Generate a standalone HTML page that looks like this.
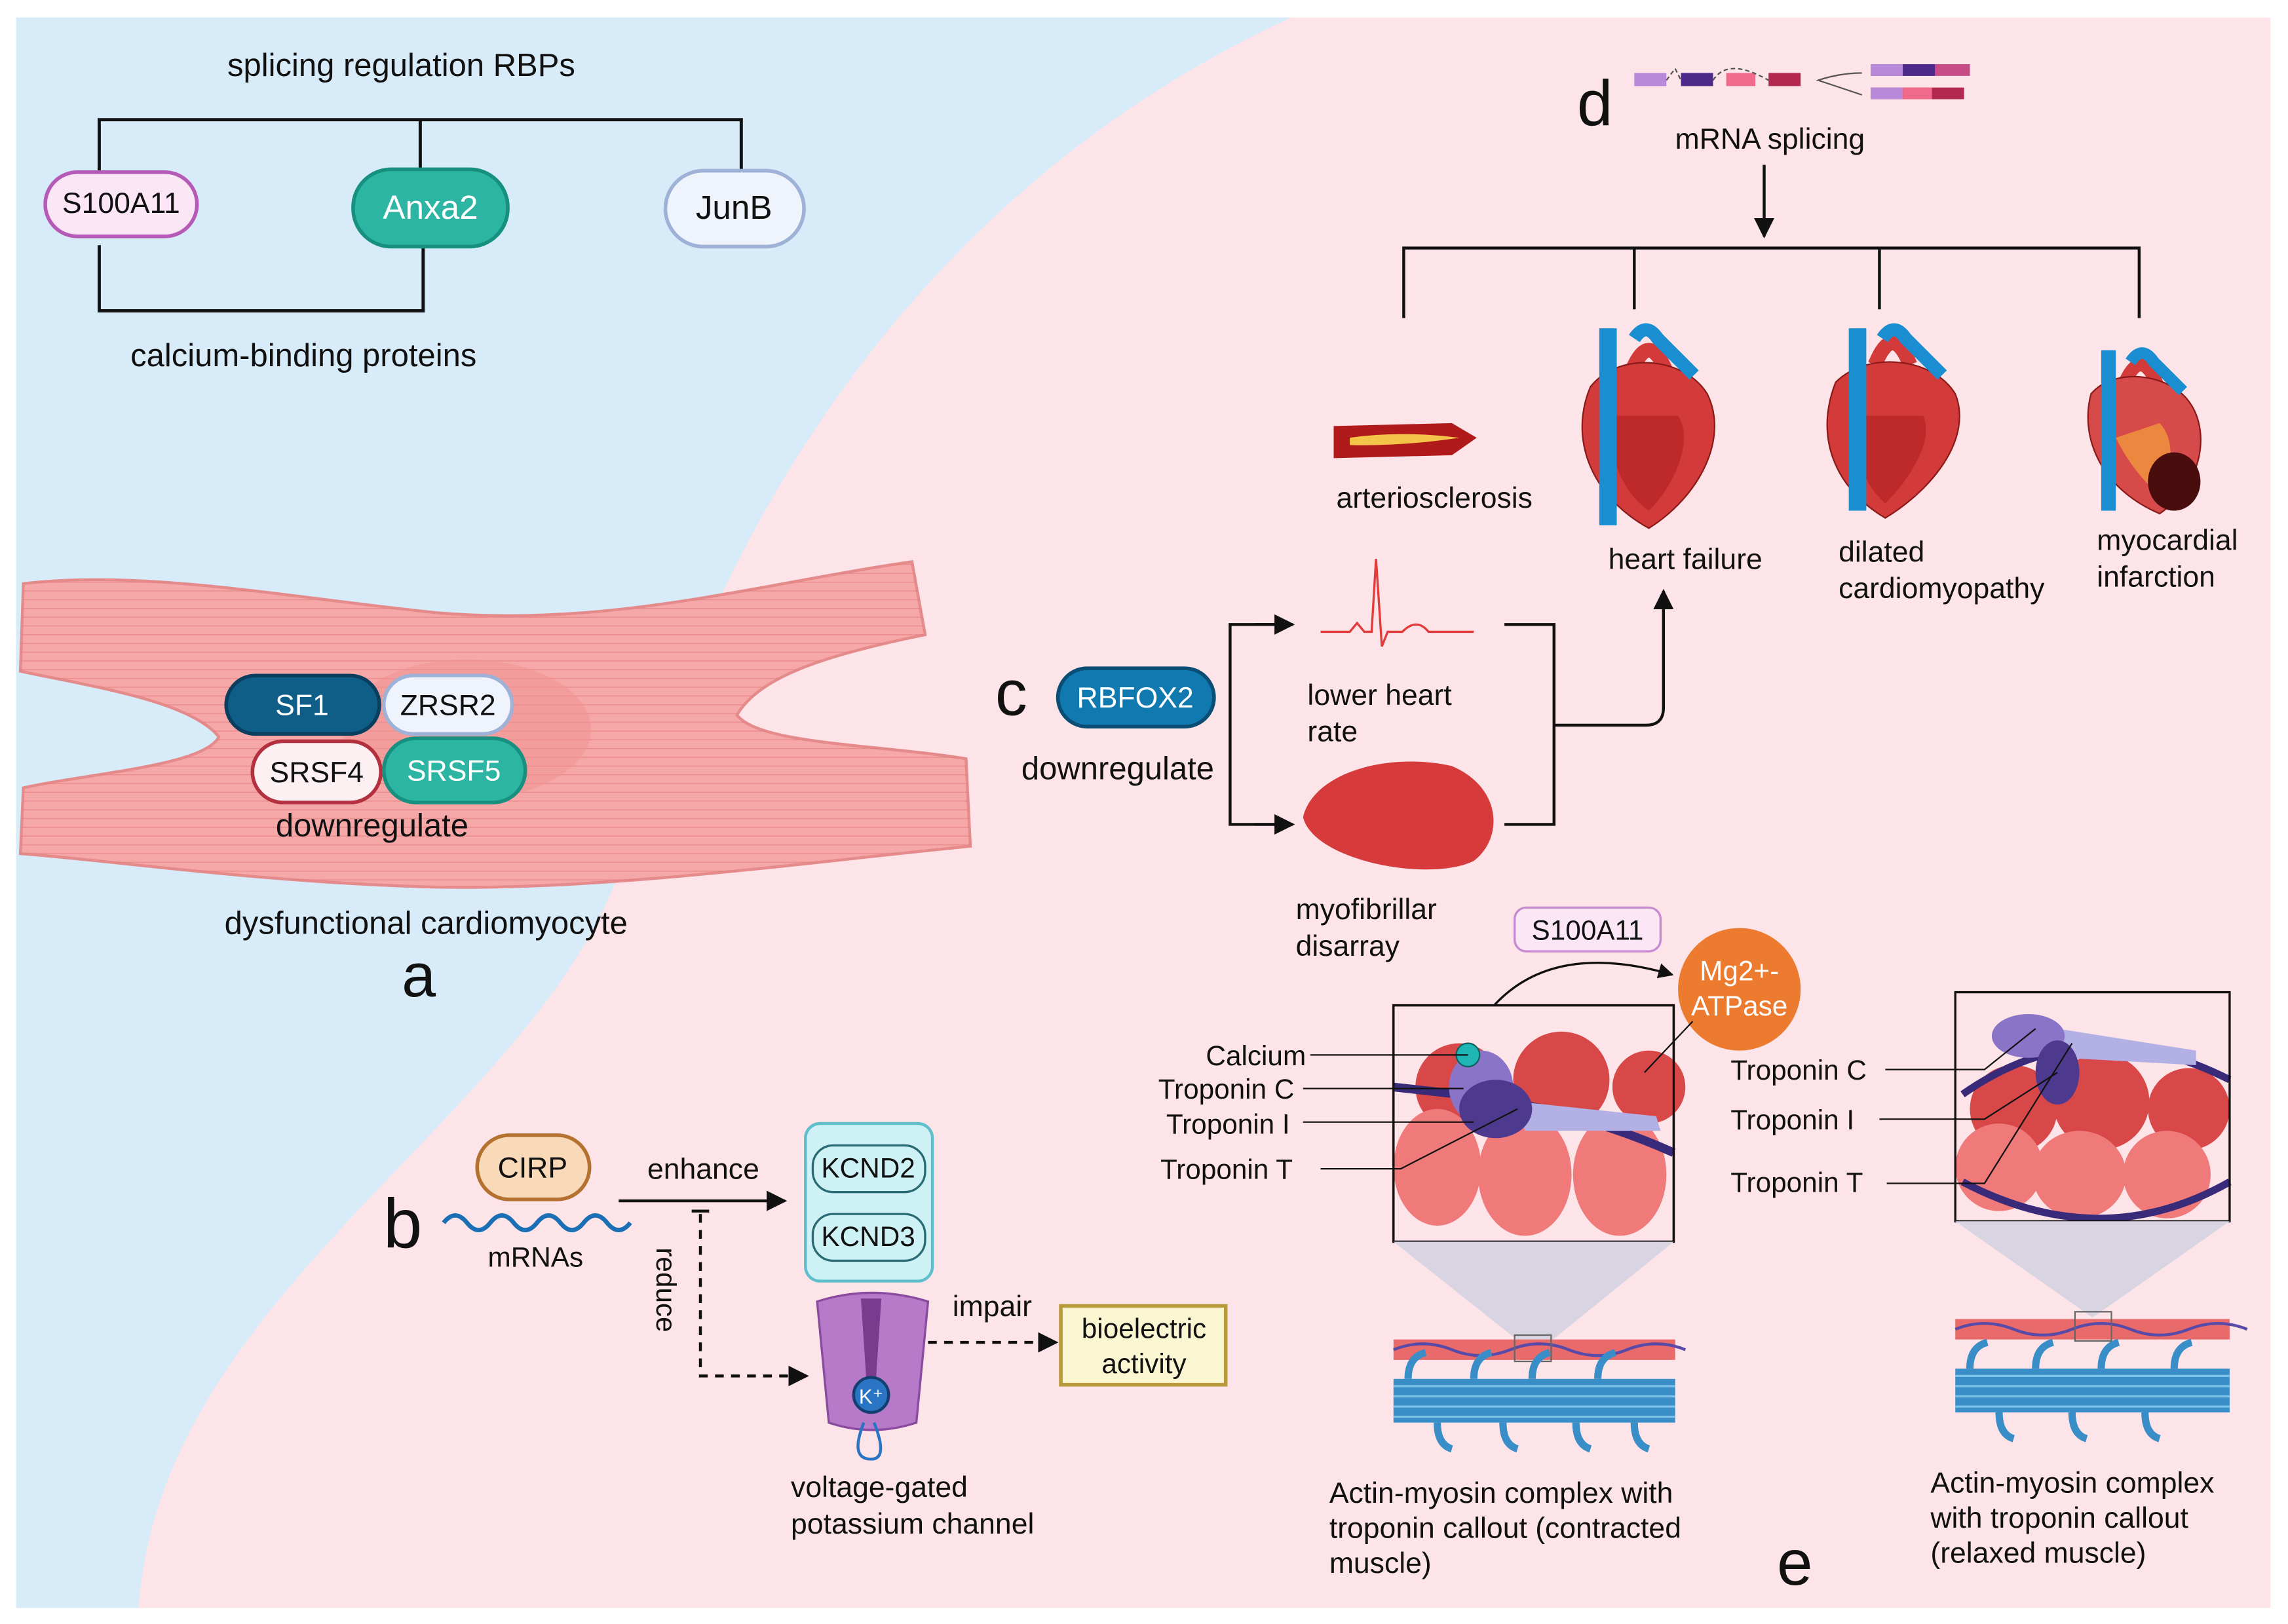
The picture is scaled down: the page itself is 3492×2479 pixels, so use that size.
<!DOCTYPE html>
<html><head><meta charset="utf-8"><style>
html,body{margin:0;padding:0;background:#fff}
svg{display:block}
text{font-family:"Liberation Sans",sans-serif;fill:#111}
</style></head><body>
<svg width="3492" height="2479" viewBox="0 0 1568 1113" preserveAspectRatio="none" xmlns="http://www.w3.org/2000/svg">
<defs>
<marker id="ar" viewBox="0 0 10 10" refX="9" refY="5" markerWidth="7" markerHeight="7" orient="auto"><path d="M0,0L10,5L0,10z" fill="#111"/></marker>
<pattern id="stri" width="40" height="6" patternUnits="userSpaceOnUse"><path d="M0,3 H40" stroke="#e07a7a" stroke-width="0.7" opacity="0.6"/></pattern>
</defs>
<rect x="0" y="0" width="1568" height="1113" fill="#fff"/>
<rect x="11" y="12" width="1545" height="1090" fill="#fde4e8"/>
<path d="M11,12 L885,12 C650,120 500,330 430,580 C380,760 110,880 95,1102 L11,1102 Z" fill="#d8ebf8"/>

<text x="275" y="52" font-size="22" text-anchor="middle">splicing regulation RBPs</text>
<path d="M68,118 V82 H508 V118 M288,82 V118" fill="none" stroke="#111" stroke-width="2.2"/>
<path d="M68,168 V213 H290 V168" fill="none" stroke="#111" stroke-width="2.2"/>
<rect x="31" y="118" width="104" height="44" rx="22" fill="#fbe6f6" stroke="#b65ab8" stroke-width="2.5"/>
<text x="83" y="146" font-size="20" text-anchor="middle">S100A11</text>
<rect x="242" y="116" width="106" height="53" rx="26" fill="#2bb5a2" stroke="#17907f" stroke-width="2.5"/>
<text x="295" y="150" font-size="23" text-anchor="middle" style="fill:#fff">Anxa2</text>
<rect x="456" y="117" width="95" height="52" rx="26" fill="#eef3fc" stroke="#9eb1d6" stroke-width="2.5"/>
<text x="503" y="150" font-size="23" text-anchor="middle">JunB</text>
<text x="208" y="251" font-size="22" text-anchor="middle">calcium-binding proteins</text>

<path d="M16,400 C100,390 200,410 300,420 C420,430 520,400 625,385 L634,435 C560,450 520,465 505,490 C520,510 600,510 662,520 L665,580 C560,590 420,610 300,608 C180,605 80,590 14,585 L16,540 C60,530 140,525 150,505 C130,480 60,470 14,460 Z" fill="#f6a8a8" stroke="#e58b8b" stroke-width="2"/>
<path d="M16,400 C100,390 200,410 300,420 C420,430 520,400 625,385 L634,435 C560,450 520,465 505,490 C520,510 600,510 662,520 L665,580 C560,590 420,610 300,608 C180,605 80,590 14,585 L16,540 C60,530 140,525 150,505 C130,480 60,470 14,460 Z" fill="url(#stri)"/>
<ellipse cx="320" cy="500" rx="85" ry="48" fill="#f08f8f" opacity="0.5"/>
<rect x="155" y="463" width="105" height="40" rx="20" fill="#0f5e88" stroke="#0a3e5e" stroke-width="2.5"/>
<text x="207" y="490" font-size="20" text-anchor="middle" style="fill:#fff">SF1</text>
<rect x="263" y="463" width="88" height="40" rx="20" fill="#eef3fc" stroke="#9eb1d6" stroke-width="2.5"/>
<text x="307" y="490" font-size="20" text-anchor="middle">ZRSR2</text>
<rect x="173" y="508" width="88" height="42" rx="21" fill="#fdf0f2" stroke="#b3303f" stroke-width="2.5"/>
<text x="217" y="536" font-size="20" text-anchor="middle">SRSF4</text>
<rect x="263" y="506" width="97" height="44" rx="22" fill="#2bb5a2" stroke="#17907f" stroke-width="2.5"/>
<text x="311" y="535" font-size="20" text-anchor="middle" style="fill:#fff">SRSF5</text>
<text x="255" y="573" font-size="22" text-anchor="middle">downregulate</text>
<text x="292" y="640" font-size="22" text-anchor="middle">dysfunctional cardiomyocyte</text>
<text x="287" y="683" font-size="42" text-anchor="middle">a</text>

<text x="276" y="855" font-size="48" text-anchor="middle">b</text>
<rect x="327" y="778" width="77" height="44" rx="22" fill="#f8d9b8" stroke="#b5712f" stroke-width="2.5"/>
<text x="365" y="807" font-size="20" text-anchor="middle">CIRP</text>
<path d="M304,838 q8,-10 16,0 t16,0 t16,0 t16,0 t16,0 t16,0 t16,0 t16,0" fill="none" stroke="#1a6fb5" stroke-width="3"/>
<text x="367" y="868" font-size="19" text-anchor="middle">mRNAs</text>
<text x="482" y="808" font-size="20" text-anchor="middle">enhance</text>
<line x1="424" y1="823" x2="538" y2="823" stroke="#111" stroke-width="2" marker-end="url(#ar)"/>
<line x1="474" y1="830" x2="486" y2="830" stroke="#111" stroke-width="2"/>
<path d="M480,832 V943 H553" fill="none" stroke="#111" stroke-width="2" stroke-dasharray="6,5" marker-end="url(#ar)"/>
<text x="450" y="855" font-size="19" transform="rotate(90 450 855)">reduce</text>
<rect x="552" y="770" width="87" height="108" rx="10" fill="#cdf1f5" stroke="#5fbfcc" stroke-width="2"/>
<rect x="557" y="785" width="77" height="32" rx="14" fill="#cdf1f5" stroke="#2a6c73" stroke-width="1.5"/>
<text x="595" y="807" font-size="19" text-anchor="middle">KCND2</text>
<rect x="557" y="832" width="77" height="32" rx="14" fill="#cdf1f5" stroke="#2a6c73" stroke-width="1.5"/>
<text x="595" y="854" font-size="19" text-anchor="middle">KCND3</text>
<path d="M560,892 Q597,880 636,892 L628,975 Q597,985 568,975 Z" fill="#b77ac8" stroke="#8a4aa0" stroke-width="1.5"/>
<path d="M590,890 h14 l-4,60 h-6 z" fill="#7a3a8e"/>
<circle cx="597" cy="956" r="12" fill="#2a74c4" stroke="#123e70" stroke-width="2"/>
<text x="597" y="962" font-size="14" text-anchor="middle" style="fill:#fff">K⁺</text>
<path d="M592,975 q-10,25 5,25 q12,0 2,-25" fill="none" stroke="#2a74c4" stroke-width="2"/>
<text x="680" y="902" font-size="20" text-anchor="middle">impair</text>
<line x1="636" y1="920" x2="724" y2="920" stroke="#111" stroke-width="2" stroke-dasharray="6,5" marker-end="url(#ar)"/>
<rect x="727" y="895" width="113" height="54" fill="#fbf6d2" stroke="#b89a3a" stroke-width="2.5"/>
<text x="784" y="917" font-size="19" text-anchor="middle">bioelectric</text>
<text x="784" y="941" font-size="19" text-anchor="middle">activity</text>
<text x="542" y="1026" font-size="20">voltage-gated</text>
<text x="542" y="1051" font-size="20">potassium channel</text>

<text x="693" y="490" font-size="44" text-anchor="middle">c</text>
<rect x="725" y="458" width="107" height="40" rx="20" fill="#0f79b0" stroke="#0a4e75" stroke-width="2.5"/>
<text x="778" y="485" font-size="20" text-anchor="middle" style="fill:#fff">RBFOX2</text>
<text x="700" y="534" font-size="22">downregulate</text>
<path d="M884,428 H843 V565 H884" fill="none" stroke="#111" stroke-width="2"/>
<line x1="860" y1="428" x2="886" y2="428" stroke="#111" stroke-width="2" marker-end="url(#ar)"/>
<line x1="860" y1="565" x2="886" y2="565" stroke="#111" stroke-width="2" marker-end="url(#ar)"/>
<path d="M905,433 h20 l5,-6 l5,6 l5,0 l3,-50 l4,60 l4,-10 l10,0 q10,-10 18,0 h31" fill="none" stroke="#e33a3a" stroke-width="1.5"/>
<text x="896" y="483" font-size="20">lower heart</text>
<text x="896" y="508" font-size="20">rate</text>
<path d="M893,560 C900,530 950,515 995,525 C1030,540 1030,575 1010,590 C980,605 900,590 893,560 Z" fill="#d63a3a"/>
<text x="888" y="630" font-size="20">myofibrillar</text>
<text x="888" y="655" font-size="20">disarray</text>
<path d="M1031,428 H1065 V565 H1031 M1065,497 H1128 Q1140,497 1140,485 V405" fill="none" stroke="#111" stroke-width="2" marker-end="url(#ar)"/>

<text x="1093" y="86" font-size="44" text-anchor="middle">d</text>
<rect x="1120" y="50" width="22" height="9" fill="#b889d8"/><rect x="1152" y="50" width="22" height="9" fill="#4d2a8a"/>
<rect x="1183" y="50" width="20" height="9" fill="#f06a8c"/><rect x="1212" y="50" width="22" height="9" fill="#b2284f"/>
<path d="M1142,55 l6,-8 l4,8 M1174,55 q10,-16 38,0" fill="none" stroke="#555" stroke-dasharray="3,2"/>
<path d="M1276,50 q-15,0 -30,5 q15,5 30,10" fill="none" stroke="#555"/>
<rect x="1282" y="44" width="68" height="8" fill="#c74b86"/><rect x="1282" y="44" width="22" height="8" fill="#b889d8"/><rect x="1304" y="44" width="22" height="8" fill="#4d2a8a"/>
<rect x="1282" y="60" width="64" height="8" fill="#b2284f"/><rect x="1282" y="60" width="22" height="8" fill="#b889d8"/><rect x="1304" y="60" width="20" height="8" fill="#f06a8c"/>
<text x="1213" y="102" font-size="20" text-anchor="middle">mRNA splicing</text>
<line x1="1209" y1="113" x2="1209" y2="162" stroke="#111" stroke-width="2" marker-end="url(#ar)"/>
<path d="M962,218 V170 H1466 V218 M1120,170 V212 M1288,170 V212" fill="none" stroke="#111" stroke-width="2"/>
<path d="M914,292 L995,290 L1012,300 L995,312 L914,314 Z" fill="#b01a1a"/>
<path d="M925,300 Q960,295 1000,300 Q960,306 925,305 Z" fill="#f3c34a"/>
<text x="983" y="348" font-size="20" text-anchor="middle">arteriosclerosis</text>
<g>
<path d="M1118,255 q12,-30 24,0" fill="none" stroke="#d33a3a" stroke-width="10"/>
<path d="M1090,265 C1075,300 1090,340 1130,362 C1165,340 1185,300 1170,270 C1155,245 1110,240 1090,265 Z" fill="#d33a3a" stroke="#8a1a1a"/>
<path d="M1105,285 C1100,315 1115,340 1130,350 C1150,330 1160,300 1150,285 Z" fill="#b02020" opacity="0.6"/>
<rect x="1096" y="225" width="12" height="135" fill="#1a8ed0"/>
<path d="M1120,232 q8,-12 16,0 l25,25" fill="none" stroke="#1a8ed0" stroke-width="9"/>
<text x="1155" y="390" font-size="20" text-anchor="middle">heart failure</text>
</g>
<g>
<path d="M1285,250 q12,-30 24,0" fill="none" stroke="#d33a3a" stroke-width="10"/>
<path d="M1258,262 C1243,300 1258,335 1292,355 C1325,335 1352,300 1340,270 C1325,245 1280,240 1258,262 Z" fill="#d33a3a" stroke="#8a1a1a"/>
<path d="M1272,285 C1268,312 1280,335 1292,345 C1312,325 1325,300 1318,285 Z" fill="#b02020" opacity="0.6"/>
<rect x="1267" y="225" width="12" height="125" fill="#1a8ed0"/>
<path d="M1290,232 q8,-12 16,0 l25,25" fill="none" stroke="#1a8ed0" stroke-width="9"/>
<text x="1260" y="385" font-size="20">dilated</text>
<text x="1260" y="410" font-size="20">cardiomyopathy</text>
</g>
<g>
<path d="M1455,265 q12,-30 24,0" fill="none" stroke="#d33a3a" stroke-width="9"/>
<path d="M1433,270 C1425,300 1440,335 1480,352 C1510,332 1515,295 1500,275 C1485,255 1448,252 1433,270 Z" fill="#d64a4a" stroke="#8a1a1a"/>
<path d="M1450,300 C1460,320 1470,330 1480,340 C1490,320 1490,300 1480,290 Z" fill="#f3a13a" opacity="0.7"/>
<ellipse cx="1490" cy="330" rx="18" ry="20" fill="#4a0d0d"/>
<rect x="1440" y="240" width="10" height="110" fill="#1a8ed0"/>
<path d="M1460,248 q8,-12 16,0 l20,20" fill="none" stroke="#1a8ed0" stroke-width="8"/>
<text x="1437" y="377" font-size="20">myocardial</text>
<text x="1437" y="402" font-size="20">infarction</text>
</g>

<rect x="1038" y="622" width="100" height="30" rx="8" fill="#fbe6f6" stroke="#c68ad0" stroke-width="1.5"/>
<text x="1088" y="644" font-size="19" text-anchor="middle">S100A11</text>
<path d="M1010,708 Q1050,640 1146,668" fill="none" stroke="#111" stroke-width="1.5" marker-end="url(#ar)"/>
<circle cx="1192" cy="678" r="42" fill="#ec7a2f"/>
<text x="1192" y="672" font-size="19" text-anchor="middle" style="fill:#fff">Mg2+-</text>
<text x="1192" y="696" font-size="19" text-anchor="middle" style="fill:#fff">ATPase</text>

<g>
<rect x="955" y="689" width="192" height="162" fill="#fde4e8" stroke="#111" stroke-width="1.5"/>
<circle cx="1000" cy="745" r="30" fill="#d84848"/><circle cx="1070" cy="740" r="33" fill="#d84848"/><circle cx="1130" cy="745" r="25" fill="#d84848"/>
<ellipse cx="985" cy="800" rx="30" ry="40" fill="#f07a7a"/><ellipse cx="1045" cy="805" rx="32" ry="42" fill="#f07a7a"/><ellipse cx="1110" cy="805" rx="32" ry="42" fill="#f07a7a"/>
<path d="M955,745 L1000,750 Q1080,760 1147,790" fill="none" stroke="#3a2a7a" stroke-width="6"/>
<path d="M1040,755 L1135,765 L1138,775 L1045,775 Z" fill="#b3b0e6"/>
<ellipse cx="1015" cy="745" rx="22" ry="25" fill="#8a74c8"/>
<ellipse cx="1025" cy="760" rx="25" ry="20" fill="#4d3a8e"/>
<circle cx="1006" cy="723" r="8" fill="#1fb5b5" stroke="#106060"/>
</g>
<rect x="955" y="689" width="192" height="162" fill="none" stroke="#111" stroke-width="1.5"/>
<text x="895" y="730" font-size="19" text-anchor="end">Calcium</text>
<text x="887" y="753" font-size="19" text-anchor="end">Troponin C</text>
<text x="884" y="777" font-size="19" text-anchor="end">Troponin I</text>
<text x="886" y="808" font-size="19" text-anchor="end">Troponin T</text>
<path d="M898,723 H1006 M893,746 H1003 M893,769 H1010 M905,801 H960 L1040,760 M1127,735 L1160,700" fill="none" stroke="#111" stroke-width="1"/>
<path d="M955,851 L1147,851 L1052,928 Z" fill="#d8d4e2"/>
<rect x="955" y="918" width="193" height="14" fill="#e86a6a"/>
<path d="M955,925 q20,-8 40,0 t40,0 t40,0 t40,0 t40,0" fill="none" stroke="#5a4aa8" stroke-width="2"/>
<rect x="1038" y="915" width="25" height="18" fill="none" stroke="#666"/>
<rect x="955" y="945" width="193" height="30" fill="#3a8ec8"/>
<path d="M955,950 H1148 M955,957 H1148 M955,964 H1148 M955,971 H1148" stroke="#7ac0e8" stroke-width="1.5"/>
<path d="M965,945 q0,-15 12,-18 M1010,945 q0,-15 12,-18 M1050,945 q0,-15 12,-18 M1095,945 q0,-15 12,-18 M985,975 q0,15 10,18 M1030,975 q0,15 10,18 M1080,975 q0,15 10,18 M1120,975 q0,15 10,18" fill="none" stroke="#3a8ec8" stroke-width="5"/>
<text x="911" y="1030" font-size="20">Actin-myosin complex with</text>
<text x="911" y="1054" font-size="20">troponin callout (contracted</text>
<text x="911" y="1078" font-size="20">muscle)</text>
<text x="1230" y="1086" font-size="44" text-anchor="middle">e</text>

<g>
<rect x="1340" y="680" width="188" height="157" fill="#fde4e8"/>
<circle cx="1380" cy="760" r="30" fill="#d84848"/><circle cx="1440" cy="755" r="33" fill="#d84848"/><circle cx="1500" cy="760" r="28" fill="#d84848"/>
<ellipse cx="1370" cy="800" rx="30" ry="30" fill="#f07a7a"/><ellipse cx="1425" cy="805" rx="32" ry="30" fill="#f07a7a"/><ellipse cx="1485" cy="805" rx="30" ry="30" fill="#f07a7a"/>
<path d="M1345,750 Q1430,690 1528,740" fill="none" stroke="#3a2a7a" stroke-width="5"/>
<path d="M1345,810 Q1440,860 1528,810" fill="none" stroke="#3a2a7a" stroke-width="5"/>
<path d="M1410,705 L1505,720 L1505,730 L1415,725 Z" fill="#b3b0e6"/>
<ellipse cx="1390" cy="710" rx="25" ry="15" fill="#8a74c8"/>
<ellipse cx="1410" cy="735" rx="15" ry="22" fill="#4d3a8e"/>
</g>
<rect x="1340" y="680" width="188" height="157" fill="none" stroke="#111" stroke-width="1.5"/>
<text x="1186" y="740" font-size="19">Troponin C</text>
<text x="1186" y="774" font-size="19">Troponin I</text>
<text x="1186" y="817" font-size="19">Troponin T</text>
<path d="M1292,733 H1360 L1395,705 M1288,767 H1360 L1410,735 M1293,811 H1360 L1420,715" fill="none" stroke="#111" stroke-width="1"/>
<path d="M1340,837 L1528,837 L1434,903 Z" fill="#d8d4e2"/>
<rect x="1340" y="904" width="188" height="14" fill="#e86a6a"/>
<path d="M1340,911 q20,-8 40,0 t40,0 t40,0 t40,0 t40,0" fill="none" stroke="#5a4aa8" stroke-width="2"/>
<rect x="1422" y="899" width="25" height="20" fill="none" stroke="#666"/>
<rect x="1340" y="938" width="188" height="30" fill="#3a8ec8"/>
<path d="M1340,943 H1528 M1340,950 H1528 M1340,957 H1528 M1340,964 H1528" stroke="#7ac0e8" stroke-width="1.5"/>
<path d="M1350,938 q0,-15 12,-18 M1395,938 q0,-15 12,-18 M1440,938 q0,-15 12,-18 M1490,938 q0,-15 12,-18 M1370,968 q0,15 10,18 M1420,968 q0,15 10,18 M1470,968 q0,15 10,18" fill="none" stroke="#3a8ec8" stroke-width="5"/>
<text x="1323" y="1023" font-size="20">Actin-myosin complex</text>
<text x="1323" y="1047" font-size="20">with troponin callout</text>
<text x="1323" y="1071" font-size="20">(relaxed muscle)</text>
</svg>
</body></html>
